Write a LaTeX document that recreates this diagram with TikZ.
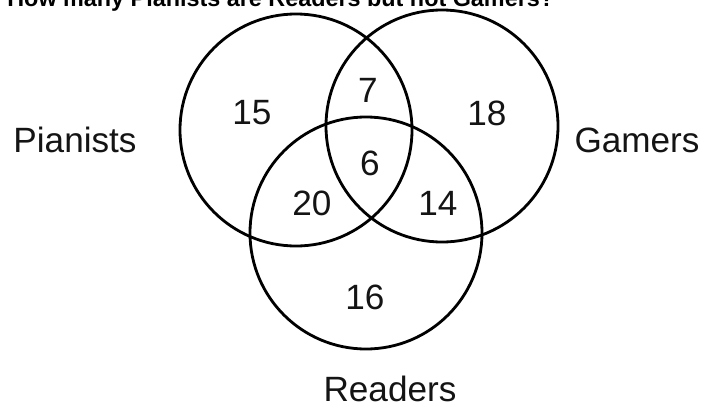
\documentclass[tikz,border=0pt]{standalone}
\usepackage{fontspec}
\setmainfont{Liberation Sans}
\usepackage{tikz}
\usetikzlibrary{positioning}
\definecolor{mydark}{RGB}{20,20,20}
\tikzset{
  setcircle/.style={draw=black, line width=1.6pt},
  countlabel/.style={font=\fontsize{20}{24}\selectfont, text=mydark},
  setlabel/.style={font=\fontsize{20}{24}\selectfont, text=mydark},
  question/.style={font=\bfseries\fontsize{13.3}{16}\selectfont, anchor=base west, inner sep=0pt}
}
\begin{document}
\begin{tikzpicture}
  \useasboundingbox (0,0) rectangle (14.2,8.16);
  % question text, cut at the top edge
  \node[question] (ask) at (0.14,8.03) {How many Pianists are Readers but not Gamers?};

  % the three sets
  \coordinate (pia) at (5.92,5.56);
  \coordinate (gam) at (8.84,5.64);
  \coordinate (rea) at (7.32,3.50);
  \draw[setcircle] (pia) circle (2.32);
  \draw[setcircle] (gam) circle (2.32);
  \draw[setcircle] (rea) circle (2.32);

  % set names
  \node[setlabel] (pianists) at (1.5,5.36) {Pianists};
  \node[setlabel] (gamers) at (12.74,5.36) {Gamers};
  \node[setlabel] (readers) at (7.8,0.38) {Readers};

  % region counts
  \node[countlabel] (onlyp) at (5.04,5.90) {15};
  \node[countlabel] (pg) at (7.36,6.36) {7};
  \node[countlabel] (onlyg) at (9.74,5.90) {18};
  \node[countlabel] (pgr) at (7.40,4.90) {6};
  \node[countlabel] (pr) at (6.24,4.10) {20};
  \node[countlabel] (gr) at (8.76,4.10) {14};
  \node[countlabel] (onlyr) at (7.30,2.22) {16};
\end{tikzpicture}
\end{document}
